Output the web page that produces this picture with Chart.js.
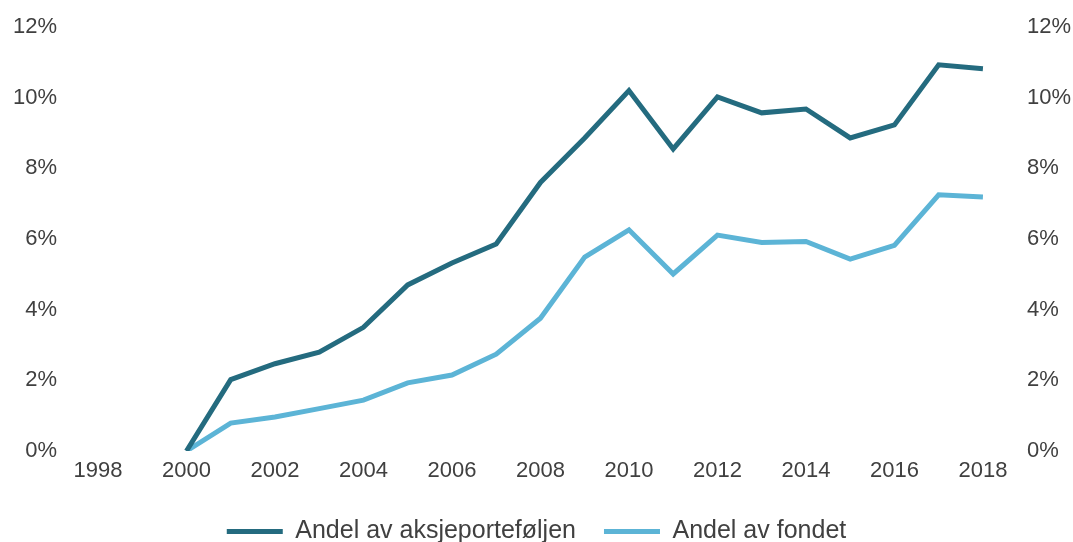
<!DOCTYPE html>
<html>
<head>
<meta charset="utf-8">
<script src="https://cdn.jsdelivr.net/npm/chart.js@4/dist/chart.umd.min.js"></script>
<style>
  html, body { margin: 0; padding: 0; background: #ffffff; }
  #wrap { width: 1073px; height: 542px; position: relative; }
</style>
</head>
<body>
<div id="wrap"><canvas id="c" width="1073" height="542"></canvas></div>
<script>
const years = [2000, 2001, 2002, 2003, 2004, 2005, 2006, 2007, 2008, 2009, 2010, 2011, 2012, 2013, 2014, 2015, 2016, 2017, 2018];
const andelAksjeportefoljen = [0.0, 2.02, 2.47, 2.8, 3.5, 4.7, 5.32, 5.86, 7.6, 8.86, 10.2, 8.55, 10.02, 9.57, 9.68, 8.86, 9.23, 10.93, 10.82];
const andelFondet = [0.0, 0.79, 0.96, 1.2, 1.44, 1.93, 2.15, 2.74, 3.76, 5.49, 6.26, 5.01, 6.11, 5.9, 5.93, 5.43, 5.82, 7.25, 7.19];
const xTickYears = [1998, 2000, 2002, 2004, 2006, 2008, 2010, 2012, 2014, 2016, 2018];
const yTicks = [0, 2, 4, 6, 8, 10, 12];
const seriesNames = ['Andel av aksjeporteføljen', 'Andel av fondet'];

const toPoints = (vals) => vals.map((v, i) => ({ x: years[i], y: v }));
const FONT = "'Liberation Sans', Arial, sans-serif";
const TXT = '#404040';
const FS = 22;

const legendHeightPlugin = {
  id: 'legendHeight',
  beforeLayout(chart) {
    const lg = chart.legend;
    if (lg && !lg._patched) {
      const orig = lg.fit;
      lg.fit = function () { orig.call(this); this.height = 51; };
      lg._patched = true;
    }
  }
};

new Chart(document.getElementById('c'), {
  type: 'line',
  plugins: [legendHeightPlugin],
  data: {
    datasets: [
      { label: seriesNames[0], data: toPoints(andelAksjeportefoljen), borderColor: '#246b7f', backgroundColor: '#246b7f', borderWidth: 5, pointRadius: 0, tension: 0, yAxisID: 'y' },
      { label: seriesNames[1], data: toPoints(andelFondet), borderColor: '#5cb4d6', backgroundColor: '#5cb4d6', borderWidth: 5, pointRadius: 0, tension: 0, yAxisID: 'y' }
    ]
  },
  options: {
    responsive: false,
    animation: false,
    layout: { padding: { left: 0, right: 0, top: 27, bottom: 0 } },
    plugins: {
      tooltip: { enabled: false },
      legend: {
        position: 'bottom',
        labels: {
          usePointStyle: true,
          pointStyle: 'line',
          pointStyleWidth: 56,
          padding: 28,
          color: TXT,
          font: { family: FONT, size: 25 }
        }
      }
    },
    scales: {
      x: {
        type: 'linear',
        min: 1997.3,
        max: 2018.77,
        afterBuildTicks: (axis) => { axis.ticks = xTickYears.map(v => ({ value: v })); },
        afterFit: (axis) => { axis.height = 40; },
        grid: { display: false, drawTicks: false },
        border: { display: false },
        ticks: { color: TXT, font: { family: FONT, size: FS }, padding: 7, maxRotation: 0, autoSkip: false, callback: (v) => String(v) }
      },
      y: {
        position: 'left',
        min: 0, max: 12,
        afterBuildTicks: (axis) => { axis.ticks = yTicks.map(v => ({ value: v })); },
        afterFit: (axis) => { axis.width = 67; },
        grid: { display: false, drawTicks: false },
        border: { display: false },
        ticks: { color: TXT, font: { family: FONT, size: FS }, padding: 10, callback: (v) => v + '%' }
      },
      y2: {
        position: 'right',
        min: 0, max: 12,
        afterBuildTicks: (axis) => { axis.ticks = yTicks.map(v => ({ value: v })); },
        afterFit: (axis) => { axis.width = 56; },
        grid: { display: false, drawTicks: false },
        border: { display: false },
        ticks: { color: TXT, font: { family: FONT, size: FS }, padding: 10, callback: (v) => v + '%' }
      }
    }
  }
});
</script>
</body>
</html>
